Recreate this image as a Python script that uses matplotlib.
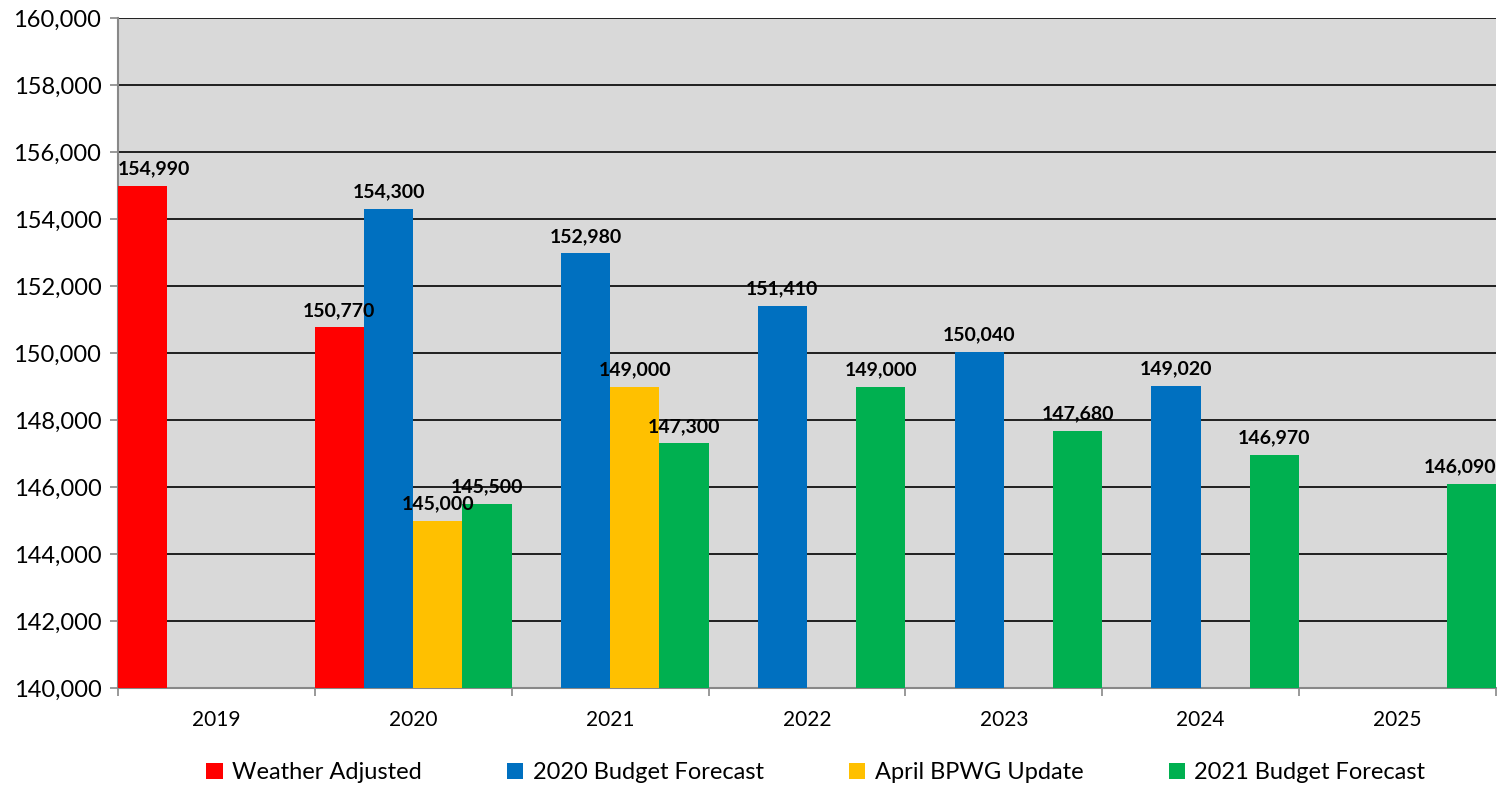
import numpy as np
import matplotlib.pyplot as plt
from matplotlib.ticker import FuncFormatter, MultipleLocator

plt.rcParams['font.family'] = ['Lato', 'DejaVu Sans']

years = ['2019', '2020', '2021', '2022', '2023', '2024', '2025']
nan = np.nan
weather_adjusted = [154990, 150770, nan, nan, nan, nan, nan]
budget_2020 = [nan, 154300, 152980, 151410, 150040, 149020, nan]
april_bpwg = [nan, 145000, 149000, nan, nan, nan, nan]
budget_2021 = [nan, 145500, 147300, 149000, 147680, 146970, 146090]

series = [
    ('Weather Adjusted', weather_adjusted, '#FF0000'),
    ('2020 Budget Forecast', budget_2020, '#0070C0'),
    ('April BPWG Update', april_bpwg, '#FFC000'),
    ('2021 Budget Forecast', budget_2021, '#00B050'),
]

fig = plt.figure(figsize=(14.97, 7.87), dpi=100)
ax = fig.add_axes([0.0788, 0.1258, 0.9205, 0.8513])
ax.set_facecolor('#D9D9D9')

x = np.arange(len(years))
width = 0.25
xmin, xmax = -0.5, len(years) - 0.5
for i, (name, vals, color) in enumerate(series):
    vals = np.array(vals, dtype=float)
    pos = x + (i - 1.5) * width
    ok = ~np.isnan(vals)
    bars = ax.bar(pos[ok], vals[ok], width, color=color, label=name, zorder=3)
    for b, v in zip(bars, vals[ok]):
        left = b.get_x()
        right = left + b.get_width()
        # labels at the plot edges are kept inside, as in the source chart
        if right >= xmax - 1e-9:
            xy, ha = (right, v), 'right'
        elif left <= xmin + 1e-9:
            xy, ha = (left, v), 'left'
        else:
            xy, ha = ((left + right) / 2, v), 'center'
        ax.annotate(f'{v:,.0f}', xy, xytext=(0, 6), textcoords='offset points',
                    ha=ha, va='bottom', fontsize=14, fontweight='bold', zorder=4)

ax.set_ylim(140000, 160000)
ax.set_xlim(xmin, xmax)
ax.yaxis.set_major_locator(MultipleLocator(2000))
ax.yaxis.set_major_formatter(FuncFormatter(lambda v, p: f'{v:,.0f}'))
ax.grid(axis='y', color='black', linewidth=1.2, zorder=1)

ax.set_xticks(x)
ax.set_xticklabels(years)
ax.set_xticks(np.arange(len(years) + 1) - 0.5, minor=True)
ax.tick_params(axis='x', which='major', length=0, pad=16, labelsize=15)
ax.tick_params(axis='x', which='minor', length=6, color='#888888', width=1.2)
ax.tick_params(axis='y', length=6, color='#888888', width=1.2, labelsize=17, pad=6)

for s in ['top', 'right']:
    ax.spines[s].set_visible(False)
for s in ['left', 'bottom']:
    ax.spines[s].set_color('#888888')
    ax.spines[s].set_linewidth(1.5)

fig.legend(loc='lower center', ncol=4, bbox_to_anchor=(0.545, -0.022), frameon=False,
           fontsize=17, handlelength=0.7, handleheight=0.7, columnspacing=3.6,
           handletextpad=0.4)

fig.savefig('out.png', dpi=100)
